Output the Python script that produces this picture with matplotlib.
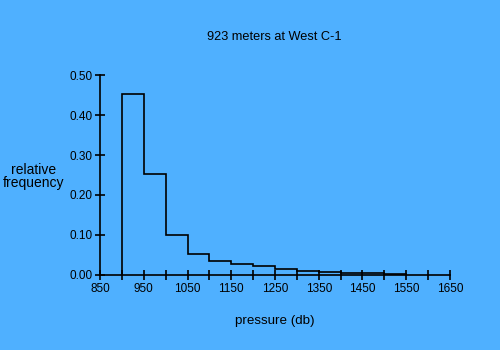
import matplotlib.pyplot as plt

bin_edges = [900, 950, 1000, 1050, 1100, 1150, 1200, 1250, 1300, 1350, 1400, 1450, 1500, 1550]
frequency = [0.452, 0.252, 0.100, 0.052, 0.034, 0.027, 0.022, 0.014, 0.011, 0.008, 0.006, 0.005, 0.003]
x_ticks = [850, 950, 1050, 1150, 1250, 1350, 1450, 1550, 1650]
y_ticks = [0.0, 0.1, 0.2, 0.3, 0.4, 0.5]

bg = '#4FB0FF'
plt.rcParams['font.family'] = ['Liberation Sans', 'DejaVu Sans']

fig = plt.figure(figsize=(5, 3.5), dpi=100, facecolor=bg)
ax = fig.add_axes([0.2, 0.2143, 0.7, 0.5714], facecolor=bg)

ax.stairs(frequency, bin_edges, color='black', linewidth=1.2, fill=False)

ax.set_xlim(850, 1650)
ax.set_ylim(0, 0.5)
ax.set_xticks(range(850, 1651, 50), minor=False)
ax.set_xticklabels([str(v) if v in x_ticks else '' for v in range(850, 1651, 50)], fontsize=8.5)
ax.set_yticks(y_ticks)
ax.set_yticklabels(['%.2f' % v for v in y_ticks], fontsize=8.5)
ax.tick_params(direction='inout', length=7, width=1.2, colors='black', pad=2)

for side in ['top', 'right']:
    ax.spines[side].set_visible(False)
for side in ['left', 'bottom']:
    ax.spines[side].set_linewidth(1.2)

fig.text(0.548, 0.895, '923 meters at West C-1', ha='center', va='center', fontsize=9.2)
fig.text(0.55, 0.083, 'pressure (db)', ha='center', va='center', fontsize=9.6)
fig.text(0.067, 0.495, 'relative\nfrequency', ha='center', va='center', fontsize=10,
         linespacing=0.95)

fig.savefig('out.png', dpi=100, facecolor=bg)
